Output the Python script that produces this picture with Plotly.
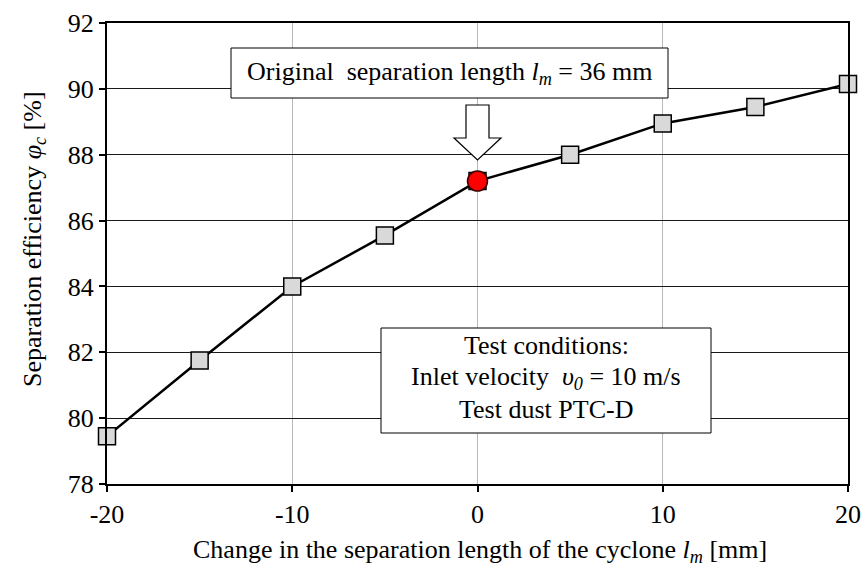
import plotly.graph_objects as go

# ---- data ----
delta_lm = [-20, -15, -10, -5, 0, 5, 10, 15, 20]
efficiency = [79.45, 81.75, 84.0, 85.55, 87.2, 88.0, 88.95, 89.45, 90.15]
orig_x = [0]
orig_y = [87.2]
x_ticks = [-20, -10, 0, 10, 20]
y_ticks = [78, 80, 82, 84, 86, 88, 90, 92]

W, H = 865, 571
# plot area in page pixels: left 107, right 848, top 23, bottom 484
ML, MT = 107, 23
MR = W - 848
MB = H - 484
PW, PH = W - ML - MR, H - MT - MB
FONT = "Liberation Serif, Times New Roman, serif"
FS = 26

def px(x):
    return (x - ML) / PW

def py(y):
    return (MT + PH - y) / PH

fig = go.Figure()
fig.add_trace(go.Scatter(
    x=delta_lm, y=efficiency, mode="lines+markers",
    line=dict(color="black", width=2.5),
    marker=dict(symbol="square", size=17, color="#d9d9d9",
                line=dict(color="black", width=1.5)),
    showlegend=False, cliponaxis=False))
fig.add_trace(go.Scatter(
    x=orig_x, y=orig_y, mode="markers",
    marker=dict(symbol="circle", size=20, color="#ff0000",
                line=dict(color="#3a0000", width=1.5)),
    showlegend=False))

shapes = []
# top text box
shapes.append(dict(type="rect", xref="paper", yref="paper",
                   x0=px(231), x1=px(668), y0=py(98), y1=py(48),
                   line=dict(color="black", width=1), fillcolor="white", layer="above"))
# hollow arrow
cx = 0.5
sx0, sx1 = px(466), px(489)
hx0, hx1 = px(454), px(501)
ytop, yhead, ytip = py(105), py(138), py(160)
path = (f"M {sx0},{ytop} L {sx1},{ytop} L {sx1},{yhead} L {hx1},{yhead} "
        f"L {cx},{ytip} L {hx0},{yhead} L {sx0},{yhead} Z")
shapes.append(dict(type="path", xref="paper", yref="paper", path=path,
                   line=dict(color="black", width=1.2), fillcolor="white", layer="above"))
# bottom text box
shapes.append(dict(type="rect", xref="paper", yref="paper",
                   x0=px(381), x1=px(711), y0=py(433), y1=py(328),
                   line=dict(color="black", width=1), fillcolor="white", layer="above"))

annotations = [
    dict(text="Original  separation length <i>l<sub>m</sub></i> = 36 mm",
         x=px(449.5), y=py(73), xref="paper", yref="paper", showarrow=False,
         yanchor="middle", font=dict(family=FONT, size=FS, color="black")),
    dict(text="Test conditions:", x=px(546), y=py(345), xref="paper", yref="paper",
         showarrow=False, yanchor="middle", font=dict(family=FONT, size=FS, color="black")),
    dict(text="Inlet velocity  <i>υ<sub>0</sub></i> = 10 m/s", x=px(546), y=py(378),
         xref="paper", yref="paper", showarrow=False, yanchor="middle",
         font=dict(family=FONT, size=FS, color="black")),
    dict(text="Test dust PTC-D", x=px(546), y=py(409), xref="paper", yref="paper",
         showarrow=False, yanchor="middle", font=dict(family=FONT, size=FS, color="black")),
    dict(text="Separation efficiency <i>φ<sub>c</sub></i> [%]", x=px(16), y=py(239),
         xref="paper", yref="paper", showarrow=False, textangle=-90,
         font=dict(family=FONT, size=FS, color="black")),
    dict(text="Change in the separation length of the cyclone <i>l<sub>m</sub></i> [mm]",
         x=px(480), y=py(551), xref="paper", yref="paper", showarrow=False,
         yanchor="middle", font=dict(family=FONT, size=FS, color="black")),
]

fig.update_layout(
    width=W, height=H,
    margin=dict(l=ML, r=MR, t=MT, b=MB, autoexpand=False),
    paper_bgcolor="white", plot_bgcolor="white",
    font=dict(family=FONT, size=FS, color="black"),
    shapes=shapes, annotations=annotations,
    xaxis=dict(range=[-20, 20], tickvals=x_ticks, ticktext=[str(v) for v in x_ticks],
               showgrid=True, gridcolor="#b8b8b8", gridwidth=1,
               showline=True, linecolor="black", linewidth=2, mirror=True,
               ticks="outside", ticklen=6, tickwidth=2, tickcolor="black",
               zeroline=False, automargin=False,
               tickfont=dict(family=FONT, size=FS)),
    yaxis=dict(range=[78, 92], tickvals=y_ticks, ticktext=[str(v) for v in y_ticks],
               showgrid=True, gridcolor="#1a1a1a", gridwidth=1,
               showline=True, linecolor="black", linewidth=2, mirror=True,
               ticks="outside", ticklen=6, tickwidth=2, tickcolor="black",
               zeroline=False, automargin=False,
               tickfont=dict(family=FONT, size=FS)),
)

fig.write_html("out.html", config={"displayModeBar": False},
               post_script="document.body.style.margin='0';document.body.style.overflow='hidden';")
